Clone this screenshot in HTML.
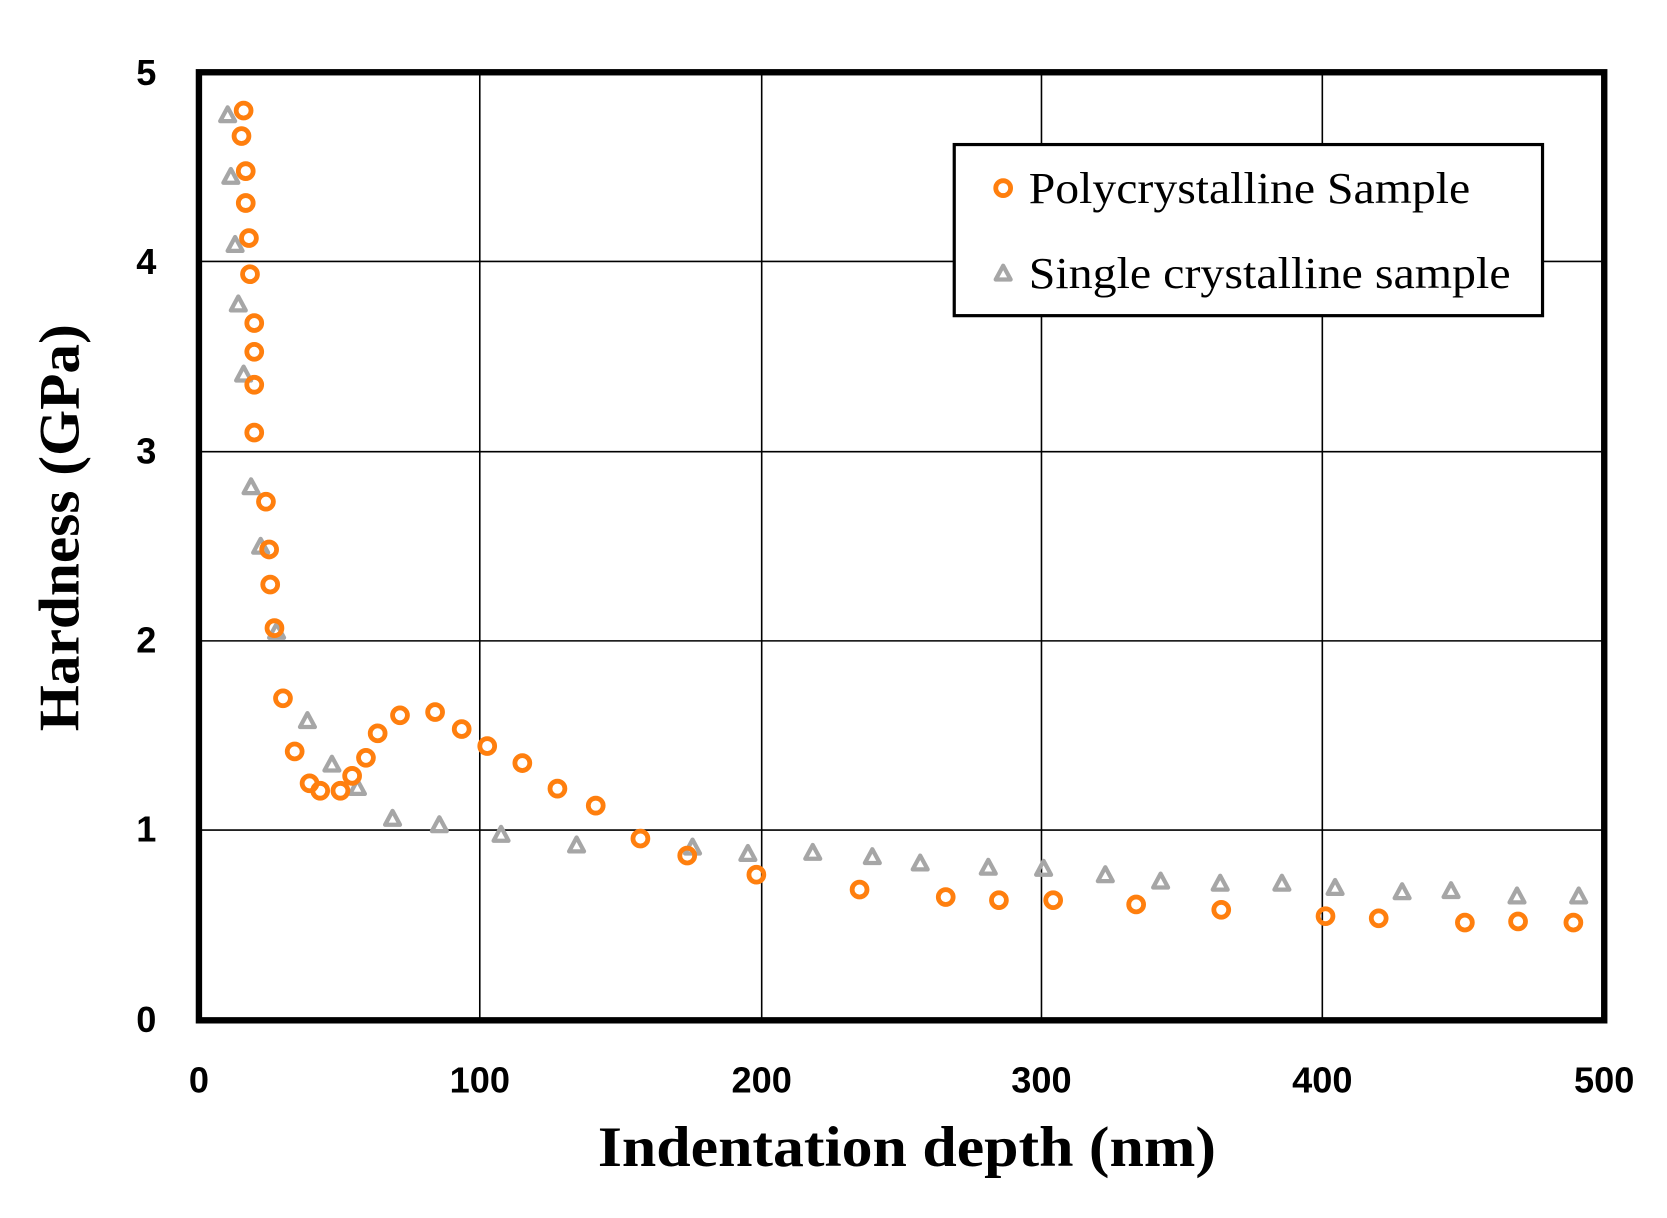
<!DOCTYPE html>
<html><head><meta charset="utf-8"><style>
html,body{margin:0;padding:0;background:#fff;}
svg{display:block;}
</style></head><body>
<svg width="1667" height="1218" viewBox="0 0 1567 1146" preserveAspectRatio="none" xmlns="http://www.w3.org/2000/svg">
<rect width="1567" height="1146" fill="#fff"/>
<g stroke="#000" stroke-width="1.5">
<line x1="451" y1="68" x2="451" y2="960"/>
<line x1="716" y1="68" x2="716" y2="960"/>
<line x1="979" y1="68" x2="979" y2="960"/>
<line x1="1243" y1="68" x2="1243" y2="960"/>
<line x1="187" y1="246" x2="1508" y2="246"/>
<line x1="187" y1="425" x2="1508" y2="425"/>
<line x1="187" y1="603" x2="1508" y2="603"/>
<line x1="187" y1="781" x2="1508" y2="781"/>
</g>
<rect x="187" y="68" width="1321" height="892" fill="none" stroke="#000" stroke-width="6"/>
<g font-family="Liberation Sans, sans-serif" font-weight="bold" font-size="34" fill="#000">
<text x="147" y="80" text-anchor="end">5</text>
<text x="147" y="258" text-anchor="end">4</text>
<text x="147" y="436" text-anchor="end">3</text>
<text x="147" y="614" text-anchor="end">2</text>
<text x="147" y="792" text-anchor="end">1</text>
<text x="147" y="971" text-anchor="end">0</text>
<text x="187" y="1028" text-anchor="middle">0</text>
<text x="451" y="1028" text-anchor="middle">100</text>
<text x="716" y="1028" text-anchor="middle">200</text>
<text x="979" y="1028" text-anchor="middle">300</text>
<text x="1243" y="1028" text-anchor="middle">400</text>
<text x="1508" y="1028" text-anchor="middle">500</text>
</g>
<text x="562" y="1097" textLength="581" lengthAdjust="spacingAndGlyphs" font-family="Liberation Serif, serif" font-weight="bold" font-size="54">Indentation depth (nm)</text>
<text transform="translate(74,688) rotate(-90)" textLength="383" lengthAdjust="spacingAndGlyphs" font-family="Liberation Serif, serif" font-weight="bold" font-size="54">Hardness (GPa)</text>
<g fill="none" stroke="#a6a6a6" stroke-width="4" stroke-linejoin="round" id="tris"></g>
<g fill="none" stroke="#ff7f0e" stroke-width="4.5" id="circs"></g>
<rect x="897" y="136" width="553" height="161" fill="#fff" stroke="#000" stroke-width="3"/>
<circle cx="943" cy="177" r="7" fill="none" stroke="#ff7f0e" stroke-width="4.5"/>
<path d="M943,250 L950,263 L936,263 Z" fill="none" stroke="#a6a6a6" stroke-width="4" stroke-linejoin="round"/>
<g font-family="Liberation Serif, serif" font-size="42" fill="#000">
<text x="967" y="191" textLength="415" lengthAdjust="spacingAndGlyphs">Polycrystalline Sample</text>
<text x="967" y="271" textLength="453" lengthAdjust="spacingAndGlyphs">Single crystalline sample</text>
</g>
<script>
var tri=[[214,108],[217,166],[221,230],[224,286],[229,352],[236,458],[245,514],[260,594],[289,678],[312,719],[336,741],[369,770],[413,776],[471,785],[542,795],[651,797],[703,803],[764,802],[820,806],[865,812],[929,816],[981,817],[1039,823],[1091,829],[1147,831],[1205,831],[1255,835],[1318,839],[1364,838],[1426,843],[1484,843]];
var cir=[[229,104],[227,128],[231,161],[231,191],[234,224],[235,258],[239,304],[239,331],[239,362],[239,407],[250,472],[253,517],[254,550],[258,591],[266,657],[277,707],[291,737],[301,744],[320,744],[331,730],[344,713],[355,690],[376,673],[409,670],[434,686],[458,702],[491,718],[524,742],[560,758],[602,789],[646,805],[711,823],[808,837],[889,844],[939,847],[990,847],[1068,851],[1148,856],[1246,862],[1296,864],[1377,868],[1427,867],[1479,868]];
var ns="http://www.w3.org/2000/svg";
var tg=document.getElementById("tris");
tri.forEach(function(p){var e=document.createElementNS(ns,"path");e.setAttribute("d","M"+p[0]+","+(p[1]-7)+" L"+(p[0]+7)+","+(p[1]+6)+" L"+(p[0]-7)+","+(p[1]+6)+" Z");tg.appendChild(e);});
var cg=document.getElementById("circs");
cir.forEach(function(p){var e=document.createElementNS(ns,"circle");e.setAttribute("cx",p[0]);e.setAttribute("cy",p[1]);e.setAttribute("r",7);cg.appendChild(e);});
</script>
</svg>
</body></html>
